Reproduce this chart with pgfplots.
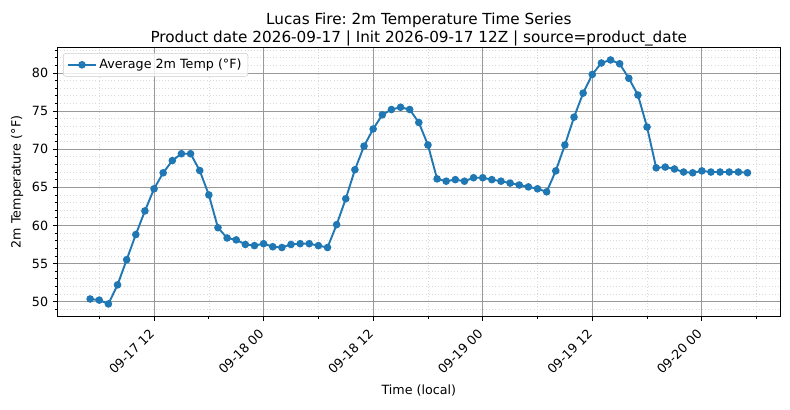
\documentclass[border=0pt]{standalone}
\usepackage{fontspec}
\setmainfont{DejaVu Sans}
\usepackage{pgfplots}
\pgfplotsset{compat=1.18}
\definecolor{mplblue}{HTML}{1F77B4}
\frenchspacing

% hourly average 2m temperature, x = hours after 09-17 00 local
\pgfplotstableread{
h  t
5  50.35
6  50.2
7  49.7
8  52.2
9  55.5
10 58.8
11 61.9
12 64.8
13 66.9
14 68.5
15 69.4
16 69.4
17 67.2
18 64.0
19 59.7
20 58.35
21 58.1
22 57.5
23 57.35
24 57.6
25 57.2
26 57.1
27 57.5
28 57.6
29 57.6
30 57.35
31 57.1
32 60.1
33 63.5
34 67.3
35 70.4
36 72.65
37 74.5
38 75.2
39 75.5
40 75.2
41 73.5
42 70.55
43 66.1
44 65.8
45 66.0
46 65.8
47 66.25
48 66.25
49 66.0
50 65.8
51 65.55
52 65.3
53 65.05
54 64.8
55 64.4
56 67.15
57 70.55
58 74.2
59 77.35
60 79.8
61 81.3
62 81.7
63 81.2
64 79.3
65 77.1
66 72.9
67 67.55
68 67.65
69 67.4
70 67.0
71 66.9
72 67.15
73 67.0
74 67.0
75 67.0
76 67.0
77 66.9
}\temps

\begin{document}
\begin{tikzpicture}
\path[use as bounding box] (-45.1pt,-73.2pt) rectangle (576.9pt,248.9pt);
\begin{axis}[
    at={(0,0)}, anchor=south west,
    scale only axis,
    width=569.3pt, height=211.3pt,
    xmin=1.4, xmax=80.6,
    ymin=48.1, ymax=83.3,
    xtick={12,24,36,48,60,72},
    xticklabels={09-17 12,09-18 00,09-18 12,09-19 00,09-19 12,09-20 00},
    minor xtick={6,18,30,42,54,66,78},
    ytick={50,55,...,80},
    minor ytick={49,51,52,53,54,56,57,58,59,61,62,63,64,66,67,68,69,71,72,73,74,76,77,78,79,81,82,83},
    tick align=outside,
    tick pos=left,
    major tick length=3.5pt,
    minor tick length=2pt,
    every tick/.style={black, line width=0.6pt},
    axis line style={line width=0.8pt},
    grid=both,
    major grid style={black!40, line width=0.6pt},
    minor grid style={black!15, line width=0.5pt, dotted},
    /pgf/number format/assume math mode=true,
    tick label style={font=\fontsize{10}{12}\selectfont},
    xticklabel style={xshift=-4.5pt, yshift=-5.5pt, rotate=45, anchor=north east, inner sep=0pt},
    yticklabel style={inner sep=0pt, xshift=-3.5pt},
    title={Lucas Fire: 2m Temperature Time Series\\Product date 2026-09-17 | Init 2026-09-17 12Z | source=product\_date},
    title style={font=\fontsize{12}{14.2}\selectfont, align=center, at={(axis description cs:0.5,1)}, anchor=south, inner sep=0pt, yshift=-5pt},
    xlabel={Time (local)},
    xlabel style={font=\fontsize{10}{12}\selectfont, at={(axis description cs:0.5,-0.276)}, anchor=center},
    ylabel={2m Temperature (°F)},
    ylabel style={font=\fontsize{10}{12}\selectfont, at={(axis description cs:-0.0557,0.5)}, anchor=center, rotate=0},
    legend style={at={(axis description cs:0,1)}, anchor=north west, xshift=4.5pt, yshift=-4.2pt,
        draw=black!20, rounded corners=2pt, fill=white, fill opacity=0.8, text opacity=1,
        font=\fontsize{10}{12}\selectfont, inner xsep=3pt, inner ysep=2.5pt},
    legend cell align=left,
    legend image code/.code={\draw[mark repeat=2,mark phase=2] plot coordinates {(0pt,0pt) (11pt,0pt) (22pt,0pt)};},
]
\addplot[mplblue, line width=1.5pt, mark=*, mark size=2.2pt, mark options={solid, fill=mplblue, draw=mplblue}]
    table[x=h, y=t] {\temps};
\addlegendentry{Average 2m Temp (°F)}
\end{axis}
\end{tikzpicture}
\end{document}
